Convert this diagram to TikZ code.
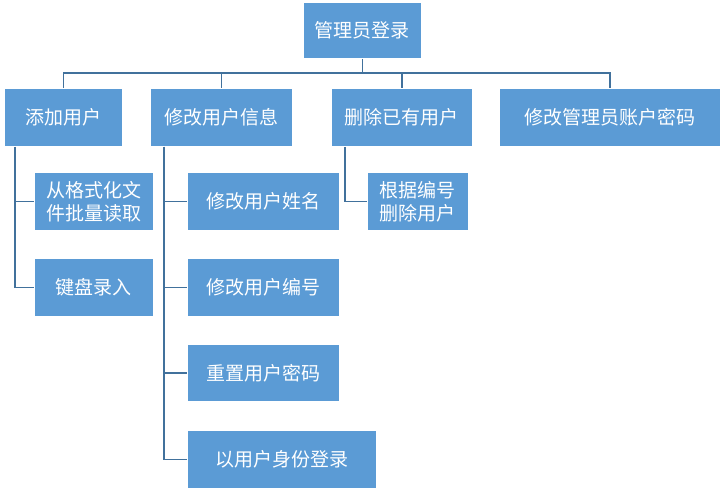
\documentclass[tikz,border=0pt]{standalone}
\usepackage{fontspec}
\newfontfamily\cjk{Noto Sans CJK SC}
\usetikzlibrary{calc}
\definecolor{boxblue}{RGB}{91,155,213}
\definecolor{lineblue}{RGB}{65,113,156}
\tikzset{
  box/.style={fill=boxblue,draw=white,line width=0.8pt,text=white,anchor=north west,
    inner sep=0pt,align=center,font=\cjk\fontsize{19}{23}\selectfont},
  link/.style={draw=lineblue,line width=1.6pt}
}
\begin{document}
\begin{tikzpicture}[x=1pt,y=-1pt]
  \useasboundingbox (0,0) rectangle (727,490);
  % boxes
  \node[box,minimum width=118,minimum height=56] (root) at (303,2) {管理员登录};
  \node[box,minimum width=118,minimum height=58] (add) at (4,88) {添加用户};
  \node[box,minimum width=142,minimum height=58] (edit) at (150,88) {修改用户信息};
  \node[box,minimum width=141,minimum height=58] (del) at (331,88) {删除已有用户};
  \node[box,minimum width=221,minimum height=58] (pwd) at (499,88) {修改管理员账户密码};
  \node[box,minimum width=119,minimum height=58] (file) at (34,172) {从格式化文\\件批量读取};
  \node[box,minimum width=119,minimum height=58] (keys) at (34,258) {键盘录入};
  \node[box,minimum width=152,minimum height=58] (name) at (187,172) {修改用户姓名};
  \node[box,minimum width=152,minimum height=58] (num) at (187,258) {修改用户编号};
  \node[box,minimum width=152,minimum height=57] (reset) at (187,344) {重置用户密码};
  \node[box,minimum width=189,minimum height=58] (login) at (187,430) {以用户身份登录};
  \node[box,minimum width=101,minimum height=58] (bynum) at (367,172) {根据编号\\删除用户};
  % top level
  \coordinate (bar) at ($(root.south)+(0,14)$);
  \draw[link] (root.south) -- (bar);
  \draw[link] (bar) -| (add.north);
  \draw[link] (bar) -| ($(edit.north)+(0,0)$);
  \draw[link] (bar) -| (del.north);
  \draw[link] (bar) -| (pwd.north);
  % sub trees
  \draw[link] ($(add.south west)+(11,0)$) |- (file.west);
  \draw[link] ($(add.south west)+(11,0)$) |- (keys.west);
  \draw[link] ($(edit.south west)+(14,0)$) |- (name.west);
  \draw[link] ($(edit.south west)+(14,0)$) |- (num.west);
  \draw[link] ($(edit.south west)+(14,0)$) |- (reset.west);
  \draw[link] ($(edit.south west)+(14,0)$) |- (login.west);
  \draw[link] ($(del.south west)+(14,0)$) |- (bynum.west);
\end{tikzpicture}
\end{document}
